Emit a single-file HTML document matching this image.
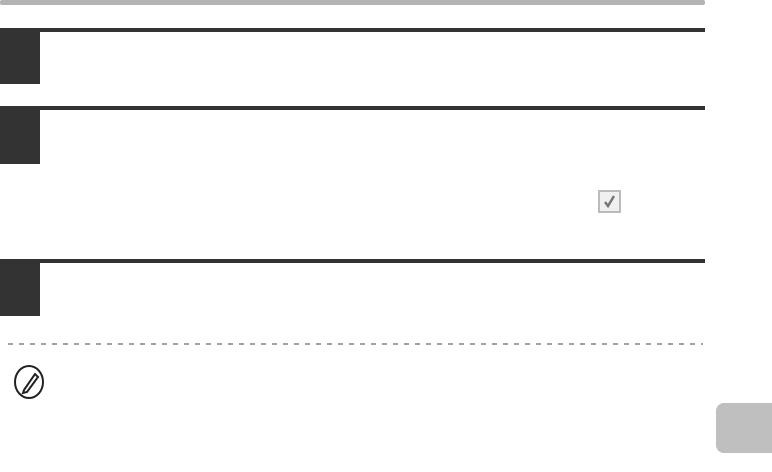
<!DOCTYPE html>
<html><head><style>
body{margin:0;width:772px;height:472px;background:#fff;position:relative;overflow:hidden;font-family:"Liberation Sans","DejaVu Sans",sans-serif}
div{position:absolute}
.r{left:0;width:705px;height:4px;background:#333}
.b{left:0;width:40px;background:#333}
</style></head><body>
<div style="left:0;top:0;width:705px;height:5px;background:#b3b3b3;border-radius:2px"></div>
<div class="r" style="top:28px"></div><div class="b" style="top:28px;height:56px"></div>
<div class="r" style="top:106px"></div><div class="b" style="top:106px;height:58px"></div>
<div class="r" style="top:259px"></div><div class="b" style="top:259px;height:57px"></div>
<svg style="position:absolute;left:598px;top:190px" width="24" height="24"><rect x="1" y="1" width="21" height="21" fill="#f0f0f0" stroke="#bbb" stroke-width="2"/><path d="M7 12 L10 16 L16 6" fill="none" stroke="#777" stroke-width="2.5"/></svg>
<svg style="position:absolute;left:0;top:342px" width="772" height="4"><line x1="8" y1="2" x2="703" y2="2" stroke="#444" stroke-width="1" stroke-dasharray="5,6"/></svg>
<svg style="position:absolute;left:12px;top:365px" width="36" height="36"><ellipse cx="17" cy="17" rx="14" ry="16" fill="none" stroke="#222" stroke-width="2"/><path d="M12 25 L23 9 L26 12 L15 27 L11 28 Z" fill="none" stroke="#222" stroke-width="2"/></svg>
<div style="left:716px;top:403px;width:56px;height:50px;background:#bfbfbf;border-radius:8px 0 0 8px"></div>
</body></html>
